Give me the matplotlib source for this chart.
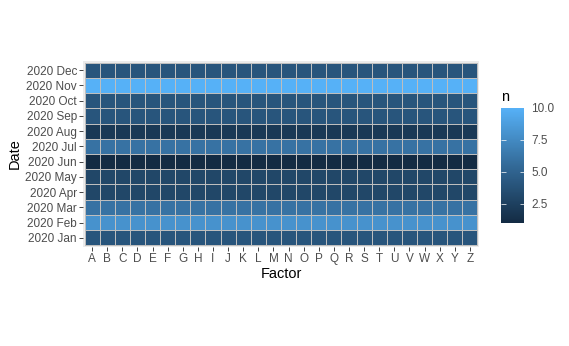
import numpy as np
import matplotlib
matplotlib.use("Agg")
import matplotlib.pyplot as plt
from matplotlib.colors import LinearSegmentedColormap, Normalize

plt.rcParams["font.family"] = ["Liberation Sans", "DejaVu Sans"]

factors = [chr(c) for c in range(ord('A'), ord('Z') + 1)]
months = ["2020 Jan", "2020 Feb", "2020 Mar", "2020 Apr", "2020 May", "2020 Jun",
          "2020 Jul", "2020 Aug", "2020 Sep", "2020 Oct", "2020 Nov", "2020 Dec"]
month_n = [4, 8, 6, 3, 3, 1, 6, 2, 4, 4, 10, 4]
legend_ticks = [2.5, 5.0, 7.5, 10.0]

values = np.array([[v] * len(factors) for v in month_n], dtype=float)

W, H = 569, 346
fig = plt.figure(figsize=(W / 72, H / 72), dpi=72)
fig.patch.set_facecolor("white")

cmap = LinearSegmentedColormap.from_list("gg", ["#132B43", "#336A98", "#56B1F7"])
norm = Normalize(vmin=min(month_n), vmax=max(month_n))

ax = fig.add_axes([83 / W, 1 - 247 / H, (479 - 83) / W, (247 - 61) / H])
ax.set_facecolor("#EBEBEB")
xe = np.arange(len(factors) + 1) - 0.5
ye = np.arange(len(months) + 1) - 0.5
mesh = ax.pcolormesh(xe, ye, values, cmap=cmap, norm=norm,
                     edgecolors="#BEBEBE", linewidth=0.5)
ax.set_xlim(-0.6, len(factors) - 0.4)
ax.set_ylim(-0.6, len(months) - 0.4)
for s in ax.spines.values():
    s.set_visible(False)
ax.set_xticks(range(len(factors)))
ax.set_xticklabels(factors)
ax.set_yticks(range(len(months)))
ax.set_yticklabels(months)
ax.tick_params(axis="both", colors="#333333", length=4, width=0.9,
               labelsize=11.8, labelcolor="#4D4D4D", pad=2)
ax.set_xlabel("Factor", fontsize=14.5, color="black", labelpad=2)
ax.set_ylabel("Date", fontsize=14.5, color="black", labelpad=4)

cax = fig.add_axes([501 / W, 1 - 223 / H, 23 / W, (223 - 108) / H])
cb = fig.colorbar(mesh, cax=cax)
cb.outline.set_visible(False)
cb.set_ticks(legend_ticks)
cb.set_ticklabels([f"{t:.1f}" for t in legend_ticks])
cax.tick_params(axis="y", direction="in", length=4.5, width=0.7, color="white",
                left=True, right=True, labelleft=False, labelright=True,
                labelsize=11.8, labelcolor="#4D4D4D", pad=7)
top_tick = cax.yaxis.get_major_ticks()[-1]
top_tick.tick1line.set_visible(False)
top_tick.tick2line.set_visible(False)
fig.text(501 / W, 1 - 97 / H, "n", fontsize=14.5, ha="left", va="center")

fig.savefig("out.png", dpi=72)
